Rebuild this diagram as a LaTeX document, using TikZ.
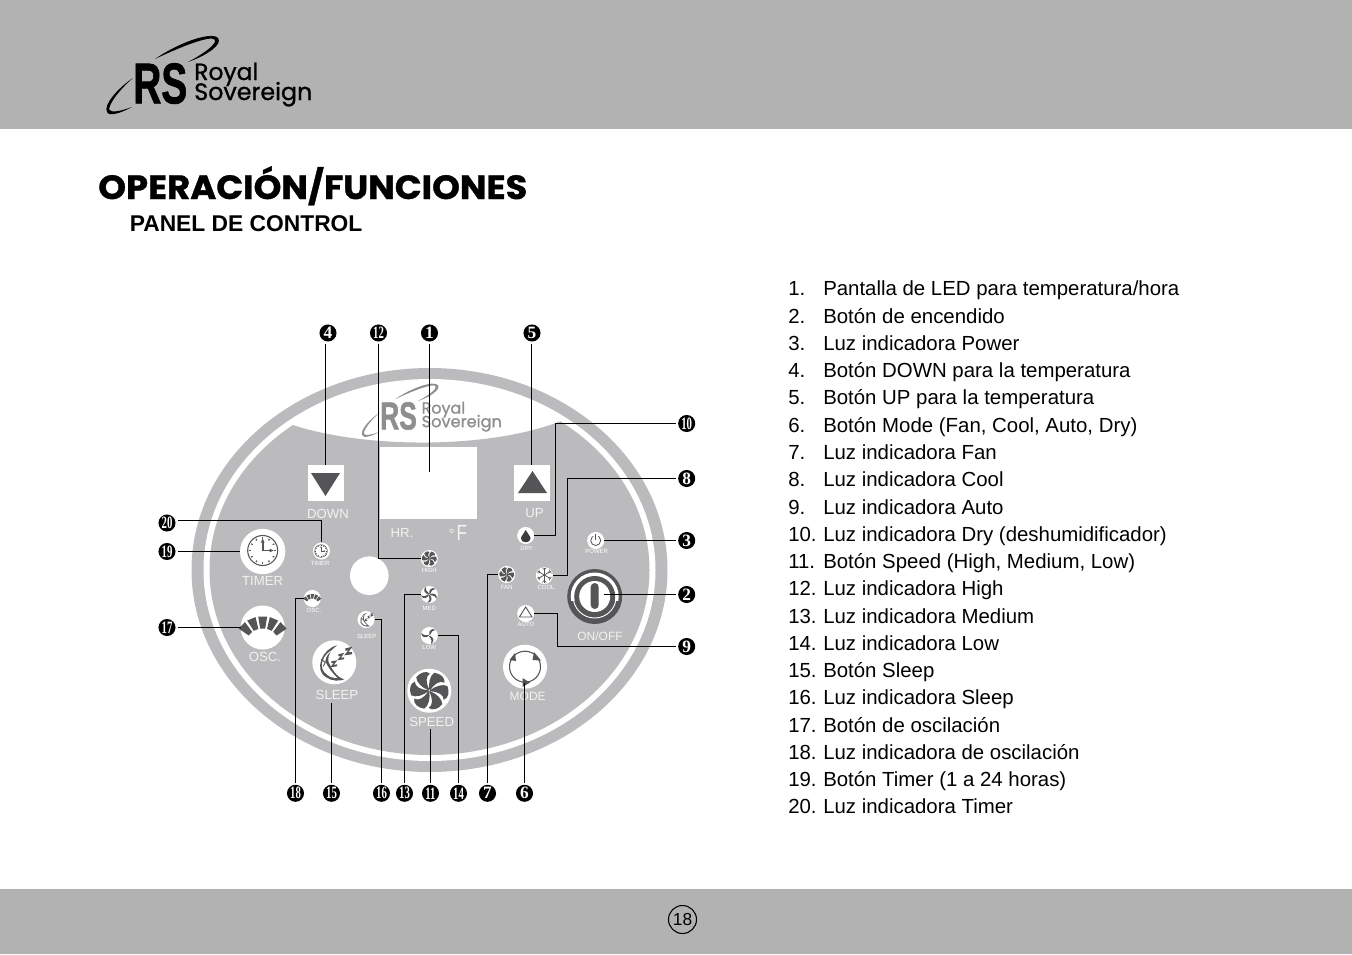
\documentclass[tikz,border=0pt]{standalone}
\usepackage{fontspec}
\usepackage{graphicx}
\setmainfont{Liberation Sans}
\newfontfamily\titlefont[BoldFeatures={FakeBold=1}]{Poppins}
\newfontfamily\rsfont[BoldFeatures={FakeBold=1.5}]{Liberation Sans}
\newfontfamily\logofont[FakeBold=1]{Poppins}
\newfontfamily\numfont{Liberation Serif}
\definecolor{band}{HTML}{B2B2B2}
\definecolor{panel}{HTML}{BBBBBD}
\definecolor{ink}{HTML}{555557}
\definecolor{logogray}{HTML}{8E8E90}
\definecolor{lab}{HTML}{F2F2F2}
\newcommand\tw[1]{\scalebox{.62}[1]{#1}}
\tikzset{
  lead/.style={draw=black,line width=0.8pt},
  num/.style={circle,fill=black,text=white,minimum size=12.8pt,inner sep=0pt,outer sep=1.6pt,font=\numfont\bfseries\fontsize{13}{13}\selectfont},
  biglab/.style={text=lab,inner sep=0pt,font=\fontsize{9.9}{10}\selectfont},
  midlab/.style={text=lab,inner sep=0pt,font=\fontsize{9}{10}\selectfont},
  tinylab/.style={text=white,inner sep=0pt,font=\fontsize{4.5}{5}\selectfont},
  bigic/.style={circle,fill=white,minimum size=33pt,inner sep=0pt,outer sep=0pt},
  smic/.style={circle,fill=white,minimum size=12.8pt,inner sep=0pt,outer sep=0pt},
  sq/.style={fill=white,minimum size=27pt,inner sep=0pt,outer sep=0pt},
  listtext/.style={inner sep=0pt,anchor=base west,font=\fontsize{15.3}{18}\selectfont}
}
\newcommand\fanic[3]{\begin{scope}[shift={(#1,#2)},scale=#3]
  \foreach \i in {1,...,6}
    \fill[ink,rotate={\i*60}] (0,-.05) .. controls (-.06,-.42) and (.04,-.85) .. (.28,-1) .. controls (.62,-.95) and (.9,-.72) .. (.84,-.44) .. controls (.6,-.58) and (.3,-.42) .. (.05,-.02) -- cycle;
\end{scope}}
\newcommand\thinfan[4]{\begin{scope}[shift={(#1,#2)},scale=#3]
  \foreach \i in {1,...,#4}
    \fill[ink,rotate={\i*360/#4}] (0,-.1) .. controls (-.12,-.55) and (.3,-1.1) .. (.85,-.75) .. controls (.55,-.78) and (.3,-.55) .. (.1,-.02) -- cycle;
\end{scope}}
\newcommand\clockic[4]{\begin{scope}[shift={(#1,#2)},scale=#3]
  \draw[ink,line width=#4] (0,0) circle (15);
  \foreach \a in {0,30,...,330} \fill[ink,rotate=\a] (-.6,-13.4) rectangle (.6,-11.6);
  \draw[ink,line width=1.6*#4] (0,-10) -- (0,0) -- (9,0);
  \fill[ink] (0,-12) -- (-1.8,-8) -- (1.8,-8) -- cycle;
  \fill[ink] (11,0) -- (7,-1.8) -- (7,1.8) -- cycle;
\end{scope}}
\newcommand\oscic[3]{\begin{scope}[shift={(#1,#2)},scale=#3]
  \foreach \a in {-46,-23,0,23,46}
    \fill[ink,shift={(0,18)},rotate=\a] (-2.5,-17) -- (-4.5,-29) -- (4.5,-29) -- (2.5,-17) -- cycle;
\end{scope}}
\newcommand\moonic[4]{\begin{scope}[shift={(#1,#2)},scale=#3]
  \fill[ink] (3,-17) .. controls (-12,-14) and (-21,8) .. (-8,15) .. controls (-3,19) and (6,19) .. (10,17)
     .. controls (2,15) and (-3,6) .. (-6,-1) .. controls (-7,-8) and (-2,-14) .. (3,-17) -- cycle;
  \fill[white] (-1,-13) .. controls (-12,-8) and (-17,6) .. (-7,12.5) .. controls (-4,15) and (0,16) .. (3,15.5)
     .. controls (-3,10) and (-7,4) .. (-9,-1) .. controls (-9,-6) and (-5,-10) .. (-1,-13) -- cycle;
  \draw[ink,line width=#4] (-13,-3) -- (-9,0) -- (-11,4);
  \fill[ink] (-3,-1) -- (3,-2) -- (-.5,2.5) -- (3,2) -- (2.6,4) -- (-4,5) -- (-.5,.5) -- (-3,1) -- cycle;
  \fill[ink] (4,-8) -- (10,-9.5) -- (6.5,-4.5) -- (10,-5) -- (9.5,-3) -- (3,-2) -- (6.5,-6.5) -- (4,-6) -- cycle;
  \fill[ink] (11,-14) -- (18,-15.5) -- (14,-10) -- (18,-10.5) -- (17.5,-8) -- (10,-7) -- (14,-12) -- (11,-11.5) -- cycle;
\end{scope}}
\newcommand\rslogo[4]{\begin{scope}[shift={(#1,#2)},scale=#3,every node/.style={transform shape,inner sep=0pt,text=#4}]
  \fill[#4] (0,15) .. controls (-15,25) and (-30,42) .. (-26,49) .. controls (-24,54) and (-12,50) .. (-1,44) .. controls (-12,48) and (-21.5,50) .. (-23.5,47) .. controls (-25.5,42) and (-12,25) .. (0,15) -- cycle;
  \fill[#4] (22,-4) .. controls (45,-20) and (78,-32) .. (85,-25) .. controls (90,-19) and (75,-8) .. (55,-1) .. controls (72,-10) and (85,-20) .. (81.5,-23.5) .. controls (77,-28) and (45,-15) .. (22,-4) -- cycle;
  \node[anchor=north west] at (0,0) {\resizebox{40.5pt}{30pt}{\rsfont\bfseries RS}};
  \node[anchor=base west] at (61,17) {\resizebox{48pt}{!}{\logofont Royal}};
  \node[anchor=base west] at (61,37) {\resizebox{88.5pt}{!}{\logofont Sovereign}};
\end{scope}}
\begin{document}
\begin{tikzpicture}[x=0.75pt,y=-0.75pt]
\useasboundingbox (0,0) rectangle (1352,954);
\fill[white] (0,0) rectangle (1352,954);
\fill[band] (0,0) rectangle (1352,129);
\fill[band] (0,889) rectangle (1352,954);
\rslogo{133}{63}{1}{black}
\node[anchor=base west,inner sep=0pt] (title) at (98,199) {\scalebox{1}[.95]{\resizebox{321.75pt}{!}{\titlefont\bfseries OPERACIÓN/FUNCIONES}}};
\node[anchor=base west,inner sep=0pt,font=\bfseries\fontsize{17.1}{18}\selectfont] (sub) at (129.5,231) {PANEL DE CONTROL};
\node[circle,draw=black,line width=.8pt,minimum size=21pt,inner sep=0pt,font=\fontsize{13}{14}\selectfont] (page) at (682.5,919.5) {18};
% panel
\fill[panel] (429.5,570) ellipse (238 and 202);
\fill[white] (429.5,570) ellipse (226 and 191);
\begin{scope}
  \clip (270,416) .. controls (345,452) and (510,452) .. (580,412) -- (700,412) -- (700,800) -- (170,800) -- (170,405) -- cycle;
  \fill[panel] (429.5,570) ellipse (220 and 185);
\end{scope}
\rslogo{380}{402}{.68}{logogray}
\node[fill=white,minimum width=72.75pt,minimum height=54pt,inner sep=0pt,outer sep=0pt] (disp) at (428.5,483) {};
\node[sq] (dn) at (325.5,483) {};
\node[sq] (upb) at (531.5,483) {};
\fill[ink] (311,473) -- (340,473) -- (325.5,496) -- cycle;
\fill[ink] (518,493) -- (547,493) -- (532.5,471) -- cycle;
\node[biglab] (ldown) at (328,513.5) {DOWN};
\node[biglab] (lup) at (534.5,513.5) {UP};
\node[biglab] (lhr) at (402,533) {HR.};
\node[text=lab,inner sep=0pt,font=\fontsize{16.5}{16.5}\selectfont] (lf) at (458,533) {\raisebox{1pt}{\fontsize{11}{11}\selectfont°}\hspace{1.5pt}\scalebox{.78}[1]{F}};
\node[bigic,minimum size=34pt] (btimer) at (262.7,551.5) {};
\clockic{262.7}{550.5}{1}{.8pt}
\node[biglab] (ltimer) at (262.7,581) {TIMER};
\node[bigic] (bosc) at (262.7,627.5) {};
\oscic{262.7}{627.5}{1}
\node[biglab] (losc) at (265,656.5) {OSC.};
\node[bigic] (bsleep) at (334.3,662.3) {};
\moonic{334.3}{662.3}{1}{.7pt}
\node[biglab] (lsleep) at (337,695) {SLEEP};
\node[circle,fill=white,minimum size=29pt,inner sep=0pt] (blank) at (369.3,575.7) {};
\node[bigic] (bspeed) at (429.3,690.7) {};
\fanic{429.3}{690.7}{18}
\node[biglab] (lspeed) at (431.7,721.7) {SPEED};
\node[bigic] (bmode) at (525,666.7) {};
\draw[ink,line width=.8pt] (525,666.7) circle (15.5);
\fill[ink] (509.5,660) -- (515,653) -- (516,661) -- cycle;
\fill[ink] (534,652) -- (541,660.5) -- (532.5,660) -- cycle;
\fill[ink] (530,682.5) -- (522.5,678) -- (522.5,687) -- cycle;
\node[midlab] (lmode) at (527.7,696) {MODE};
% on/off
\fill[ink] (594.7,596.5) circle (27.5);
\begin{scope}
  \clip (560,560) rectangle (630,600.5);
  \fill[white] (594.7,596.5) circle (24);
\end{scope}
\draw[white,line width=.7pt] (594.7,596.5) circle (21.5);
\fill[ink] (594.7,596.5) circle (20.5);
\fill[white] (594.7,596.5) circle (15.5);
\fill[ink,rounded corners=3pt] (590.7,583) rectangle (598.7,609);
\node[midlab] (lonoff) at (600,636) {ON/OFF};
% small indicators
\node[smic] (stimer) at (321.5,551) {};
\clockic{321}{551}{.42}{.45pt}
\node[tinylab] (ltt) at (320,563) {TIMER};
\node[smic] (sosc) at (312.3,598.5) {};
\oscic{312.3}{598.3}{.38}
\node[tinylab] (lto) at (314,610) {OSC.};
\node[smic] (ssleep) at (366,619.5) {};
\moonic{366}{619.3}{.4}{.3pt}
\node[tinylab] (lts) at (366.7,636) {SLEEP};
\node[smic] (high) at (429.3,558.5) {};
\fanic{429.3}{558.5}{7}
\node[tinylab] (lth) at (429.3,570.7) {HIGH};
\node[smic] (med) at (429.3,594.5) {};
\thinfan{429.3}{594.5}{7.5}{5}
\node[tinylab] (ltm) at (429.3,608.3) {MED};
\node[smic] (low) at (429.3,635.5) {};
\thinfan{429.3}{635.5}{7.5}{3}
\node[tinylab] (ltl) at (429.3,647.3) {LOW};
\node[smic] (dry) at (525.7,535.5) {};
\fill[ink!70!black] (525.7,530) .. controls (527,533.5) and (530.5,535.5) .. (530.5,538.5) .. controls (530.5,543.5) and (521,543.5) .. (521,538.5) .. controls (521,535.5) and (524.5,533.5) .. (525.7,530) -- cycle;
\node[tinylab] (ltd) at (526.7,548.7) {DRY};
\node[smic] (power) at (595.7,540.5) {};
\draw[ink,line width=.6pt] (595.7,540.5) circle (5);
\fill[white] (595.7,540) -- (591.5,533.5) -- (600,533.5) -- cycle;
\draw[ink,line width=.6pt] (595.7,534) -- (595.7,540);
\node[tinylab] (ltp) at (596.7,551.7) {POWER};
\node[smic] (fan) at (506.7,574.5) {};
\fanic{506.7}{574.5}{7}
\node[tinylab] (ltf) at (506.7,587.3) {FAN};
\node[smic] (cool) at (544.3,575.5) {};
\foreach \a in {0,60,120} {
  \draw[ink,line width=.55pt,rotate around={\a:(544.3,575)}] (544.3,567.5) -- (544.3,582.5);
  \draw[ink,line width=.4pt,rotate around={\a:(544.3,575)}] (542.3,567.5) -- (544.3,570) -- (546.3,567.5);
  \draw[ink,line width=.4pt,rotate around={\a:(544.3,575)}] (542.3,582.5) -- (544.3,580) -- (546.3,582.5);
}
\node[tinylab] (ltc) at (546,587.3) {COOL};
\node[smic] (auto) at (525.7,613.5) {};
\draw[ink,line width=.7pt] (525.7,607) -- (532,617) -- (519.4,617) -- cycle;
\node[tinylab] (lta) at (526,624.7) {AUTO};
% numbers
\node[num] (n4) at (328,333) {4};
\node[num] (n12) at (378.5,333) {\tw{12}};
\node[num] (n1) at (429.5,333) {1};
\node[num] (n5) at (532,333) {5};
\node[num] (n10) at (686.7,423.5) {\tw{10}};
\node[num] (n8) at (686.7,478.5) {8};
\node[num] (n3) at (686.7,540.5) {3};
\node[num] (n2) at (686.7,594.5) {2};
\node[num] (n9) at (686.7,646.5) {9};
\node[num] (n20) at (167,523) {\tw{20}};
\node[num] (n19) at (167,551.5) {\tw{19}};
\node[num] (n17) at (167,627.5) {\tw{17}};
\node[num] (n18) at (295.5,793.3) {\tw{18}};
\node[num] (n15) at (331.5,793.3) {\tw{15}};
\node[num] (n16) at (381.5,793.3) {\tw{16}};
\node[num] (n13) at (404.5,793.3) {\tw{13}};
\node[num] (n11) at (430.5,793.3) {\tw{11}};
\node[num] (n14) at (458.5,793.3) {\tw{14}};
\node[num] (n7) at (487.5,793.3) {7};
\node[num] (n6) at (524.5,793.3) {6};
% free ends
\coordinate (e1) at (429.5,472);
\coordinate (e2) at (604,594.5);
\coordinate (e6) at (524.5,683);
\coordinate (e8) at (567.5,0);
\coordinate (e9) at (557.5,0);
\coordinate (e10) at (555.5,0);
\coordinate (e11) at (430.5,729);
\coordinate (e15) at (331.5,703);
\coordinate (e20) at (0,520.5);
% connectors
\draw[lead] (n4.south -| dn.north) -- (dn.north);
\draw[lead] (n12.south) |- (high.west);
\draw[lead] (n1.south) -- (e1);
\draw[lead] (n5.south -| upb.north) -- (upb.north);
\draw[lead] (n10.west) -| (e10 |- dry.east) -- (dry.east);
\draw[lead] (n8.west) -| (e8 |- cool.east) -- (cool.east);
\draw[lead] (n3.west) -- (power.east);
\draw[lead] (n2.west) -- (e2);
\draw[lead] (n9.west) -| (e9 |- auto.east) -- (auto.east);
\draw[lead] (n20.east |- e20) -| (stimer.north);
\draw[lead] (n19.east) -- (btimer.west);
\draw[lead] (n17.east) -- (bosc.west);
\draw[lead] (n18.north) |- (sosc.west);
\draw[lead] (n15.north) -- (e15);
\draw[lead] (n16.north) |- (ssleep.east);
\draw[lead] (n13.north) |- (med.west);
\draw[lead] (n11.north) -- (e11);
\draw[lead] (n14.north) |- (low.east);
\draw[lead] (n7.north) |- (fan.west);
\draw[lead] (n6.north) -- (e6);
% list
\foreach \n/\y/\t in {
 1/288/{Pantalla de LED para temperatura/hora},
 2/316/{Botón de encendido},
 3/343/{Luz indicadora Power},
 4/370/{Botón DOWN para la temperatura},
 5/397/{Botón UP para la temperatura},
 6/425/{Botón Mode (Fan, Cool, Auto, Dry)},
 7/452/{Luz indicadora Fan},
 8/479/{Luz indicadora Cool},
 9/507/{Luz indicadora Auto},
 10/534/{Luz indicadora Dry (deshumidificador)},
 11/561/{Botón Speed (High, Medium, Low)},
 12/588/{Luz indicadora High},
 13/616/{Luz indicadora Medium},
 14/643/{Luz indicadora Low},
 15/670/{Botón Sleep},
 16/697/{Luz indicadora Sleep},
 17/725/{Botón de oscilación},
 18/752/{Luz indicadora de oscilación},
 19/779/{Botón Timer (1 a 24 horas)},
 20/806/{Luz indicadora Timer}} {
  \node[listtext] (idx\n) at (788,\y+7.5) {\n.};
  \node[listtext] (item\n) at (823,\y+7.5) {\t};
}
\end{tikzpicture}
\end{document}
